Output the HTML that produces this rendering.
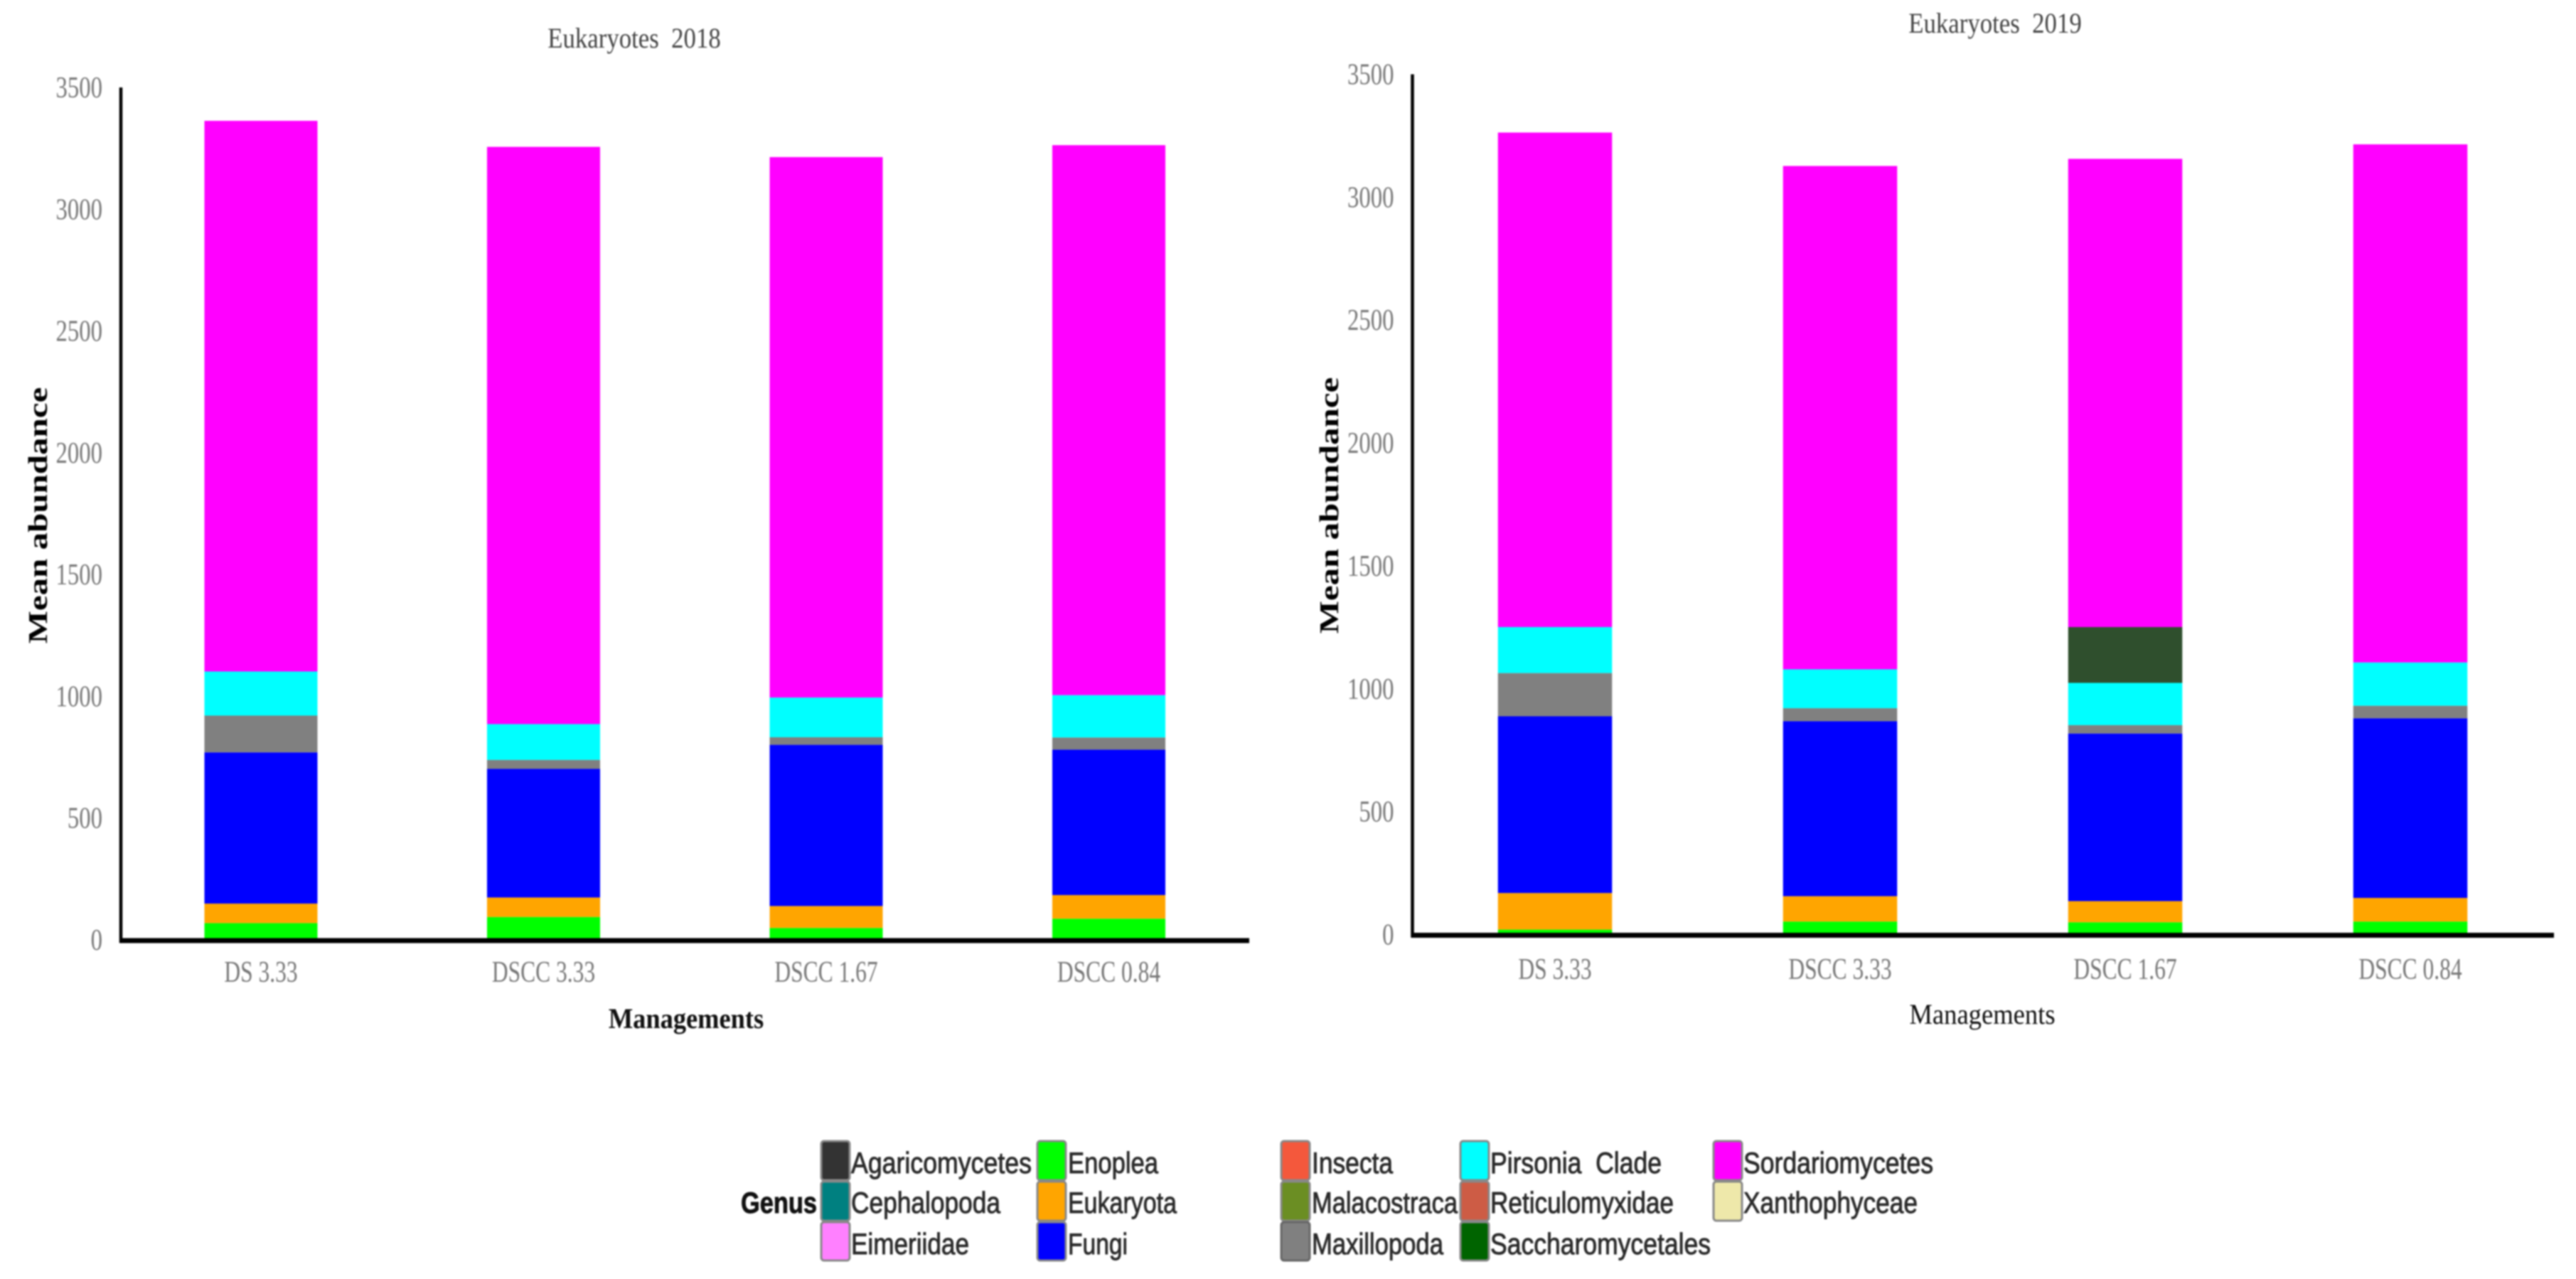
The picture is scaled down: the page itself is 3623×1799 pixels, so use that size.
<!DOCTYPE html>
<html>
<head>
<meta charset="utf-8">
<title>Eukaryotes mean abundance 2018 and 2019</title>
<style>
html,body{margin:0;padding:0;background:#fff;}
svg{display:block;filter:blur(1.1px);}
text{white-space:pre;}
.serif{font-family:"Liberation Serif",serif;}
.sans{font-family:"Liberation Sans",sans-serif;font-size:42px;fill:#2a2a2a;stroke:#2a2a2a;stroke-width:0.9px;}
</style>
</head>
<body>
<svg id="figure" xmlns="http://www.w3.org/2000/svg" width="3623" height="1799" viewBox="0 0 3623 1799">
<rect width="3623" height="1799" fill="#fff"/>
<g id="charts"></g>
<g>
<text class="sans" x="1042" y="1706" font-weight="bold" style="fill:#111;stroke:#111" textLength="107" lengthAdjust="spacingAndGlyphs">Genus</text>

<g><rect x="1155" y="1605" width="40" height="55" rx="4" fill="#333" stroke="#888" stroke-width="3"/><text class="sans" x="1197" y="1650" textLength="254" lengthAdjust="spacingAndGlyphs">Agaricomycetes</text></g>
<g><rect x="1155" y="1662" width="40" height="55" rx="4" fill="#008080" stroke="#888" stroke-width="3"/><text class="sans" x="1197" y="1706" textLength="210" lengthAdjust="spacingAndGlyphs">Cephalopoda</text></g>
<g><rect x="1155" y="1719" width="40" height="54" rx="4" fill="#ff80ff" stroke="#888" stroke-width="3"/><text class="sans" x="1197" y="1764" textLength="166" lengthAdjust="spacingAndGlyphs">Eimeriidae</text></g>

<g><rect x="1459" y="1605" width="40" height="55" rx="4" fill="#00ff00" stroke="#888" stroke-width="3"/><text class="sans" x="1502" y="1650" textLength="127" lengthAdjust="spacingAndGlyphs">Enoplea</text></g>
<g><rect x="1459" y="1662" width="40" height="55" rx="4" fill="#ffa500" stroke="#888" stroke-width="3"/><text class="sans" x="1502" y="1706" textLength="153" lengthAdjust="spacingAndGlyphs">Eukaryota</text></g>
<g><rect x="1459" y="1719" width="40" height="54" rx="4" fill="#0000ff" stroke="#888" stroke-width="3"/><text class="sans" x="1502" y="1764" textLength="84" lengthAdjust="spacingAndGlyphs">Fungi</text></g>

<g><rect x="1802" y="1605" width="40" height="55" rx="4" fill="#f4583c" stroke="#888" stroke-width="3"/><text class="sans" x="1845" y="1650" textLength="114" lengthAdjust="spacingAndGlyphs">Insecta</text></g>
<g><rect x="1802" y="1662" width="40" height="55" rx="4" fill="#6b8e23" stroke="#888" stroke-width="3"/><text class="sans" x="1845" y="1706" textLength="205" lengthAdjust="spacingAndGlyphs">Malacostraca</text></g>
<g><rect x="1802" y="1719" width="40" height="54" rx="4" fill="#808080" stroke="#666" stroke-width="3"/><text class="sans" x="1845" y="1764" textLength="185" lengthAdjust="spacingAndGlyphs">Maxillopoda</text></g>

<g><rect x="2054" y="1605" width="40" height="55" rx="4" fill="#00ffff" stroke="#888" stroke-width="3"/><text class="sans" x="2096" y="1650" textLength="241" lengthAdjust="spacingAndGlyphs">Pirsonia  Clade</text></g>
<g><rect x="2054" y="1662" width="40" height="55" rx="4" fill="#cd5c45" stroke="#888" stroke-width="3"/><text class="sans" x="2096" y="1706" textLength="258" lengthAdjust="spacingAndGlyphs">Reticulomyxidae</text></g>
<g><rect x="2054" y="1719" width="40" height="54" rx="4" fill="#006400" stroke="#888" stroke-width="3"/><text class="sans" x="2096" y="1764" textLength="310" lengthAdjust="spacingAndGlyphs">Saccharomycetales</text></g>

<g><rect x="2410" y="1605" width="40" height="55" rx="4" fill="#ff00ff" stroke="#888" stroke-width="3"/><text class="sans" x="2452" y="1650" textLength="267" lengthAdjust="spacingAndGlyphs">Sordariomycetes</text></g>
<g><rect x="2410" y="1662" width="40" height="55" rx="4" fill="#eee8aa" stroke="#888" stroke-width="3"/><text class="sans" x="2452" y="1706" textLength="245" lengthAdjust="spacingAndGlyphs">Xanthophyceae</text></g>
</g>
</svg>
<script>
const categories = ["DS 3.33", "DSCC 3.33", "DSCC 1.67", "DSCC 0.84"];
const yTicks = [0, 500, 1000, 1500, 2000, 2500, 3000, 3500];

const seriesNames2018 = ["Enoplea", "Eukaryota", "Fungi", "Maxillopoda", "Pirsonia Clade", "Sordariomycetes"];
const seriesColors2018 = ["#00ff00", "#ffa500", "#0000ff", "#808080", "#00ffff", "#ff00ff"];
const enoplea2018 = [69, 94, 49, 87];
const eukaryota2018 = [80, 80, 90, 97];
const fungi2018 = [621, 528, 662, 597];
const maxillopoda2018 = [151, 37, 31, 50];
const pirsonia2018 = [181, 147, 163, 174];
const sordariomycetes2018 = [2261, 2370, 2219, 2258];

const seriesNames2019 = ["Enoplea", "Eukaryota", "Fungi", "Maxillopoda", "Pirsonia Clade", "Saccharomycetales", "Sordariomycetes"];
const seriesColors2019 = ["#00ff00", "#ffa500", "#0000ff", "#808080", "#00ffff", "#2f4f2d", "#ff00ff"];
const enoplea2019 = [20, 53, 50, 53];
const eukaryota2019 = [149, 103, 86, 96];
const fungi2019 = [719, 712, 682, 731];
const maxillopoda2019 = [176, 53, 34, 51];
const pirsonia2019 = [187, 158, 172, 176];
const saccharomycetales2019 = [0, 0, 227, 0];
const sordariomycetes2019 = [2012, 2048, 1905, 2108];

const NS = "http://www.w3.org/2000/svg";
const root = document.getElementById("charts");

function addText(parent, str, x, y, size, sx, anchor, weight, fill, rotate) {
  const t = document.createElementNS(NS, "text");
  t.setAttribute("class", "serif");
  t.setAttribute("font-size", size);
  t.setAttribute("text-anchor", anchor);
  t.setAttribute("font-weight", weight);
  t.setAttribute("fill", fill);
  t.setAttribute("transform", "translate(" + x + " " + y + ")" + (rotate ? " rotate(-90)" : "") + " scale(" + sx + " 1)");
  t.textContent = str;
  parent.appendChild(t);
  return t;
}

function addLine(parent, x1, y1, x2, y2, w) {
  const l = document.createElementNS(NS, "line");
  l.setAttribute("x1", x1);
  l.setAttribute("y1", y1);
  l.setAttribute("x2", x2);
  l.setAttribute("y2", y2);
  l.setAttribute("stroke", "#000");
  l.setAttribute("stroke-width", w);
  parent.appendChild(l);
  return l;
}

function drawChart(cfg) {
  const g = document.createElementNS(NS, "g");
  
  
  root.appendChild(g);

  const yScale = function (v) { return cfg.y0 - (v / 3500) * (cfg.y0 - cfg.y3500); };
  const xScale = function (i) { return cfg.firstCenter + i * cfg.step; };

  const title = addText(g, "Eukaryotes  " + cfg.year, cfg.titleX, cfg.titleY, 40, 0.87, "middle", "normal", "#444", false);
  
  

  yTicks.forEach(function (v) {
    const t = addText(g, String(v), cfg.axisX - 26, yScale(v) + 14, 42, 0.78, "end", "normal", "#777", false);
    
    
  });

  categories.forEach(function (c, i) {
    let acc = 0;
    cfg.series.forEach(function (values, s) {
      const r = document.createElementNS(NS, "rect");
      const top = yScale(acc + values[i]);
      r.setAttribute("x", xScale(i) - cfg.barWidth / 2);
      r.setAttribute("y", top);
      r.setAttribute("width", cfg.barWidth);
      r.setAttribute("height", Math.max(0, yScale(acc) - top));
      r.setAttribute("fill", cfg.colors[s]);
      
      
      const tip = document.createElementNS(NS, "title");
      tip.textContent = c + " " + cfg.names[s] + ": " + values[i];
      r.appendChild(tip);
      g.appendChild(r);
      acc += values[i];
    });
    const t = addText(g, c, xScale(i), cfg.catY, 42, 0.75, "middle", "normal", "#777", false);
    
    
  });

  const yAxis = addLine(g, cfg.axisX, cfg.y3500, cfg.axisX, cfg.y0 + 4, 4.5);
  
  
  const xAxis = addLine(g, cfg.axisX - 2, cfg.y0 + 1, cfg.axisEnd, cfg.y0 + 1, 7);
  
  

  const yt = addText(g, "Mean abundance", cfg.yTitleX, cfg.yTitleY, 38, 1.29, "middle", "bold", "#000", true);
  
  

  const xt = addText(g, "Managements", cfg.xTitleX, cfg.xTitleY, 40, cfg.xTitleSx, "middle", cfg.xTitleWeight, "#111", false);
  
  
}

drawChart({
  year: 2018,
  series: [enoplea2018, eukaryota2018, fungi2018, maxillopoda2018, pirsonia2018, sordariomycetes2018],
  names: seriesNames2018,
  colors: seriesColors2018,
  axisX: 170, axisEnd: 1757, y0: 1322, y3500: 123,
  firstCenter: 367, step: 397.5, barWidth: 159,
  titleX: 892, titleY: 67, catY: 1381,
  yTitleX: 66, yTitleY: 725,
  xTitleX: 965, xTitleY: 1446, xTitleSx: 0.91, xTitleWeight: "bold"
});

drawChart({
  year: 2019,
  series: [enoplea2019, eukaryota2019, fungi2019, maxillopoda2019, pirsonia2019, saccharomycetales2019, sordariomycetes2019],
  names: seriesNames2019,
  colors: seriesColors2019,
  axisX: 1986.5, axisEnd: 3592, y0: 1314.5, y3500: 104.5,
  firstCenter: 2187, step: 401, barWidth: 160.5,
  titleX: 2806, titleY: 46, catY: 1377,
  yTitleX: 1882, yTitleY: 711,
  xTitleX: 2788, xTitleY: 1440, xTitleSx: 0.915, xTitleWeight: "normal"
});
</script>
</body>
</html>
